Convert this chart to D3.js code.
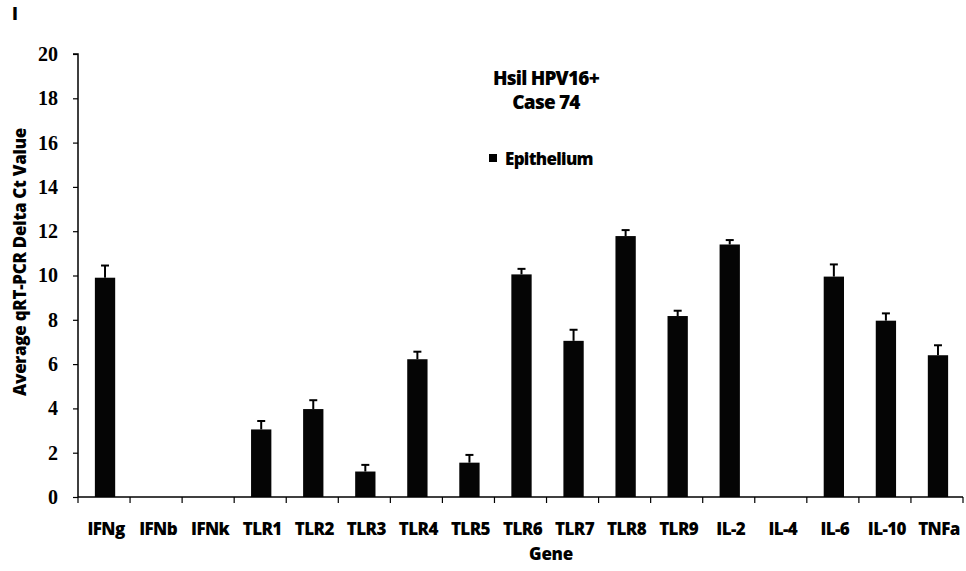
<!DOCTYPE html>
<html>
<head>
<meta charset="utf-8">
<script src="https://cdn.jsdelivr.net/npm/d3@7"></script>
<style>
  html, body { margin: 0; padding: 0; background: #fff; }
  svg { display: block; }
  .lbl { font-family: "Open Sans", sans-serif; font-weight: 800; }
</style>
</head>
<body>
<svg id="chart" width="966" height="571"></svg>
<script>
const genes = ["IFNg","IFNb","IFNk","TLR1","TLR2","TLR3","TLR4","TLR5","TLR6","TLR7","TLR8","TLR9","IL-2","IL-4","IL-6","IL-10","TNFa"];
const values = [9.9, 0, 0, 3.05, 3.97, 1.15, 6.22, 1.55, 10.05, 7.05, 11.78, 8.17, 11.4, 0, 9.95, 7.96, 6.4];
const errors = [0.55, 0, 0, 0.38, 0.4, 0.3, 0.34, 0.35, 0.25, 0.5, 0.27, 0.24, 0.2, 0, 0.55, 0.33, 0.45];
const yTicks = [0, 2, 4, 6, 8, 10, 12, 14, 16, 18, 20];
const titleLines = ["Hsil HPV16+", "Case 74"];
const legendLabel = "Epithelium";
const yTitle = "Average qRT-PCR Delta Ct Value";
const xTitle = "Gene";
const panelLabel = "I";

const svg = d3.select("#chart");
const mLeft = 78, mRight = 963, mTop = 54, mBottom = 497;

const x = d3.scaleBand().domain(genes).range([mLeft, mRight]).padding(0);
const y = d3.scaleLinear().domain([0, 20]).range([mBottom, mTop]);
const barW = x.bandwidth() * 0.39;

// bars
const data = genes.map((g, i) => ({g, v: values[i], e: errors[i]}));
svg.append("g").selectAll("rect").data(data.filter(d => d.v > 0)).join("rect")
  .attr("x", d => x(d.g) + x.bandwidth() / 2 - barW / 2 + 1)
  .attr("y", d => y(d.v))
  .attr("width", barW)
  .attr("height", d => y(0) - y(d.v))
  .attr("fill", "#050505");

// error bars
const eg = svg.append("g").attr("stroke", "#000").attr("stroke-width", 2);
data.filter(d => d.v > 0).forEach(d => {
  const cx = x(d.g) + x.bandwidth() / 2 + 1;
  eg.append("line").attr("x1", cx).attr("x2", cx).attr("y1", y(d.v)).attr("y2", y(d.v + d.e));
  eg.append("line").attr("x1", cx - 4).attr("x2", cx + 4).attr("y1", y(d.v + d.e)).attr("y2", y(d.v + d.e));
});

// y axis
const yAxis = svg.append("g").attr("transform", `translate(${mLeft},0)`)
  .call(d3.axisLeft(y).tickValues(yTicks).tickSize(5).tickPadding(15).tickFormat(d3.format("d")));
yAxis.select(".domain").attr("stroke", "#000").attr("stroke-width", 1.5).attr("d", `M-5,${mTop}H0V${mBottom}`);
yAxis.selectAll(".tick line").attr("stroke", "#000").attr("stroke-width", 1.2);
yAxis.selectAll(".tick text")
  .style("font-family", "'Liberation Serif', 'DejaVu Serif', serif")
  .style("font-weight", "bold")
  .style("font-size", "20px")
  .attr("fill", "#000");

// x axis
const xAxis = svg.append("g").attr("transform", `translate(0,${mBottom})`);
xAxis.append("line").attr("x1", mLeft).attr("x2", mRight).attr("y1", 0).attr("y2", 0)
  .attr("stroke", "#000").attr("stroke-width", 1.5);
const boundaries = genes.map(g => x(g)).concat([x(genes[genes.length - 1]) + x.bandwidth()]);
xAxis.selectAll("line.tk").data(boundaries).join("line").attr("class", "tk")
  .attr("x1", d => d).attr("x2", d => d).attr("y1", 0).attr("y2", 6)
  .attr("stroke", "#000").attr("stroke-width", 1.2);
xAxis.selectAll("text").data(genes).join("text")
  .attr("class", "lbl")
  .attr("x", d => x(d) + x.bandwidth() / 2 + 2)
  .attr("y", 38)
  .attr("text-anchor", "middle")
  .attr("font-size", 17)
  .attr("letter-spacing", -0.6)
  .attr("fill", "#000")
  .text(d => d);

// axis titles
svg.append("text").attr("class", "lbl").attr("x", 551).attr("y", 560)
  .attr("text-anchor", "middle").attr("font-size", 17).attr("letter-spacing", -0.3).text(xTitle);
svg.append("text").attr("class", "lbl")
  .attr("transform", "translate(26,262) rotate(-90)")
  .attr("text-anchor", "middle").attr("font-size", 17).attr("letter-spacing", -0.3).text(yTitle);

// title
svg.selectAll("text.title").data(titleLines).join("text").attr("class", "lbl title")
  .attr("x", 546).attr("y", (d, i) => 85 + i * 24)
  .attr("text-anchor", "middle").attr("font-size", 19).attr("letter-spacing", -0.8).text(d => d);

// legend
svg.append("rect").attr("x", 489).attr("y", 154).attr("width", 8).attr("height", 8).attr("fill", "#000");
svg.append("text").attr("class", "lbl").attr("x", 505).attr("y", 165)
  .attr("font-size", 17).attr("letter-spacing", -0.7).text(legendLabel);

// panel label
svg.append("text").attr("class", "lbl").attr("x", 12).attr("y", 20)
  .attr("font-size", 17).text(panelLabel);
</script>
</body>
</html>
